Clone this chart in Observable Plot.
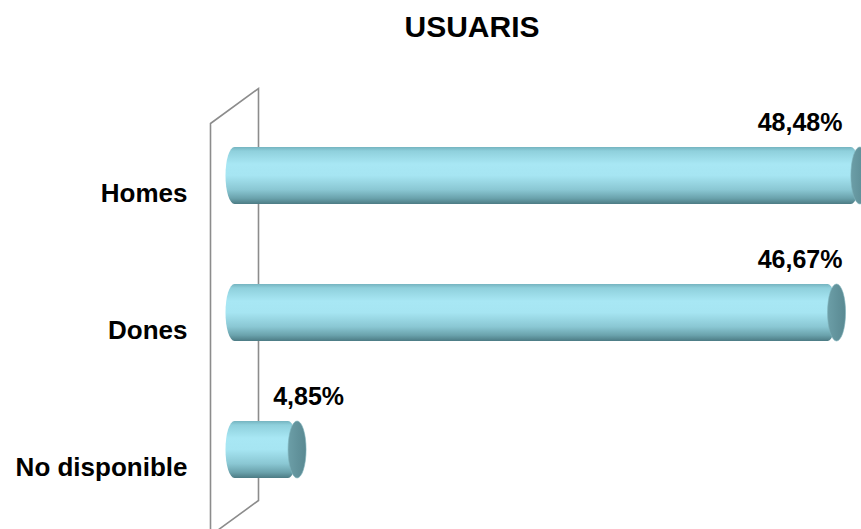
<!DOCTYPE html>
<html>
<head>
<meta charset="utf-8">
<script src="https://cdn.jsdelivr.net/npm/d3@7"></script>
<script src="https://cdn.jsdelivr.net/npm/@observablehq/plot@0.6"></script>
<style>
  html, body { margin: 0; padding: 0; background: #fff; overflow: hidden; }
  #wrap { position: relative; width: 861px; height: 529px; }
  #title { position: absolute; left: 0; top: 12px; width: 944px; text-align: center;
           font: bold 30px 'Liberation Sans', Arial, sans-serif; line-height: 30px; color: #000; }
  svg { display: block; }
</style>
</head>
<body>
<div id="wrap"><div id="chart"></div><div id="title"></div></div>
<script>
// ---- data ----
const title = "USUARIS";
const categories = ["Homes", "Dones", "No disponible"];
const values = [48.48, 46.67, 4.85];
const valueLabels = ["48,48%", "46,67%", "4,85%"];

const data = categories.map((c, i) => ({category: c, value: values[i], label: valueLabels[i]}));

const W = 861, H = 529;
const FONT = "'Liberation Sans', Arial, sans-serif";
const depthX = 24, depthY = 17.5;   // 3D depth offset of the wall
const capRx = 9;                     // cylinder end-cap horizontal radius
const labelFont = 25;

document.getElementById("title").textContent = title;

// text width measurement for keeping labels inside the frame
const measureCtx = document.createElement("canvas").getContext("2d");
measureCtx.font = `bold ${labelFont}px ${FONT}`;

// left wall (3D panel) drawn from the x scale and the frame
function wall(index, scales, vals, dims) {
  const x0 = scales.x(0);
  const top = dims.marginTop, bottom = dims.height - dims.marginBottom;
  const p = d3.path();
  p.moveTo(x0 - depthX, bottom + depthY);
  p.lineTo(x0 - depthX, top + depthY);
  p.lineTo(x0 + depthX, top - depthY);
  p.lineTo(x0 + depthX, bottom - depthY);
  p.closePath();
  return d3.create("svg:path")
    .attr("d", p.toString())
    .attr("fill", "none")
    .attr("stroke", "#8c8c8c")
    .attr("stroke-width", 1.6)
    .node();
}

const chart = Plot.plot({
  width: W,
  height: H,
  marginLeft: 235,
  marginRight: 19,
  marginTop: 106,
  marginBottom: 11,
  style: {fontFamily: FONT, fontSize: "26px", color: "#000", background: "#fff"},
  x: {domain: [0, 50], range: [234.5, 879.5], axis: null},
  y: {domain: categories, paddingInner: 0.584, paddingOuter: 0.292, label: null},
  marks: [
    wall,
    Plot.barX(data, {
      x: "value",
      y: "category",
      fill: "url(#cylGrad)",
      render(index, scales, vals, dims, ctx, next) {
        const g = next(index, scales, vals, dims, ctx);
        const rects = Array.from(g.querySelectorAll("rect"));
        for (const r of rects) {
          const x = +r.getAttribute("x"), w = +r.getAttribute("width");
          const y = +r.getAttribute("y"), h = +r.getAttribute("height");
          r.setAttribute("x", x - capRx);
          r.setAttribute("width", w + capRx);
          r.setAttribute("rx", capRx);
          r.setAttribute("ry", h / 2);
          const e = document.createElementNS("http://www.w3.org/2000/svg", "ellipse");
          e.setAttribute("cx", x + w);
          e.setAttribute("cy", y + h / 2);
          e.setAttribute("rx", capRx);
          e.setAttribute("ry", h / 2);
          e.setAttribute("fill", "url(#capGrad)");
          e.setAttribute("stroke", "#7fb3bc");
          e.setAttribute("stroke-width", 0.6);
          r.parentNode.appendChild(e);
        }
        return g;
      }
    }),
    Plot.axisY({
      tickSize: 0,
      tickPadding: 48,
      fontSize: 26,
      fontWeight: "bold",
      dy: depthY,
      label: null
    }),
    Plot.text(data, {
      x: "value",
      y: "category",
      text: "label",
      dy: -53,
      textAnchor: "middle",
      fontSize: labelFont,
      fontWeight: "bold",
      fill: "#000",
      render(index, scales, vals, dims, ctx, next) {
        const limit = dims.width - dims.marginRight;
        const X = Float64Array.from(vals.x);
        for (const i of index) {
          const w = measureCtx.measureText(vals.text ? vals.text[i] : data[i].label).width;
          let cx = X[i] + 11;
          if (cx + w / 2 > limit) cx = limit - w / 2;
          X[i] = cx;
        }
        return next(index, scales, {...vals, x: X}, dims, ctx);
      }
    })
  ]
});

// gradients for the cylinders
const defs = d3.select(chart).insert("defs", ":first-child");
const lg = defs.append("linearGradient").attr("id", "cylGrad")
  .attr("x1", 0).attr("y1", 0).attr("x2", 0).attr("y2", 1);
[[0, "#75b4c0"], [0.07, "#8fd0dc"], [0.3, "#a8e7f4"], [0.5, "#a6e5f2"],
 [0.75, "#8ac7d3"], [0.9, "#6aa2ac"], [1, "#4c7b84"]]
  .forEach(([o, c]) => lg.append("stop").attr("offset", o).attr("stop-color", c));
const cg = defs.append("linearGradient").attr("id", "capGrad")
  .attr("x1", 0).attr("y1", 0).attr("x2", 1).attr("y2", 0);
[[0, "#6c9ea7"], [0.5, "#62939c"], [1, "#5a8992"]]
  .forEach(([o, c]) => cg.append("stop").attr("offset", o).attr("stop-color", c));

document.getElementById("chart").appendChild(chart);
</script>
</body>
</html>
